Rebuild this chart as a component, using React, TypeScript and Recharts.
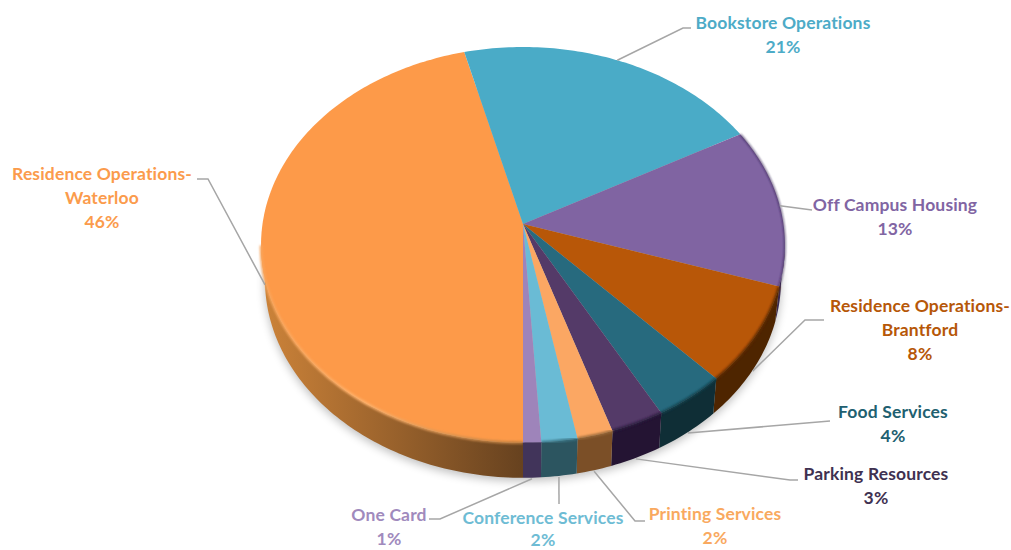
import { Pie, PieChart } from "recharts";

// categories and values, clockwise from the bottom of the pie
const names = [
  "Residence Operations-Waterloo",
  "Bookstore Operations",
  "Off Campus Housing",
  "Residence Operations-Brantford",
  "Food Services",
  "Parking Resources",
  "Printing Services",
  "Conference Services",
  "One Card",
];
const values = [46, 21, 13, 8, 4, 3, 2, 2, 1];

const faceColors = ["#FD9A49", "#4AABC7", "#8064A2", "#B85708", "#276A7E", "#543A68", "#FBA763", "#6ABBD5", "#9E84BA"];
const wallColors = ["url(#waterlooWall)", "#2C6677", "#3A2A52", "#4E2500", "#0F2E36", "#241433", "#7B4F27", "#2C5560", "#41345A"];
const rimColors = ["url(#waterlooRim)", "#4AABC7", "#2E1E4A", "#5E2C00", "#163F4B", "#2A1A3C", "#9A6A3A", "#3A7585", "#54456E"];
const textColors = ["#FB9B4C", "#4DABC7", "#8165A3", "#B65708", "#215F70", "#3F3151", "#F9A95F", "#6EBCD4", "#A08ABD"];

const pieData = names.map((name, i) => ({ name, value: values[i], fill: faceColors[i] }));

// label placement: text centre, first line baseline, line gap, then the bend(s) of the leader line
const labelX = [102, 783, 895, 920, 893, 876, 715, 543, 389];
const labelY = [180, 29, 211, 312, 418, 480, 520, 524, 521];
const labelGap = [24, 24, 24, 24, 24, 24, 24, 22, 24];
const leaderBends = [
  [[208, 179], [197, 179]],
  [[683, 28], [691, 28]],
  [[812, 210]],
  [[805, 320], [824, 320]],
  [[830, 421]],
  [[790, 480], [798, 480]],
  [[635, 521], [645, 521]],
  [[559, 504]],
  [[440, 519], [429, 519]],
];

const CX = 523;
const CY = 224;
const RX = 260.5;
const RY = 195.7;
const TILT = -0.1056; // perspective, centre of the disc sits above the middle of the ellipse
const DEPTH = 35;
const BOTTOM_SCALE = 0.985; // lower disc is further away so it reads a bit narrower
const FONT = "Lato, 'Open Sans', sans-serif";

// recharts angle (deg, counter-clockwise) -> point on the tilted disc
function project(angle: number, cx: number, cy: number) {
  const t = (-angle * Math.PI) / 180;
  const d = 1 + TILT * Math.sin(t);
  return [cx + (RX * Math.cos(t)) / d, cy + (RY * Math.sin(t)) / d];
}

const lower = (p: number[], cx: number) => [cx + (p[0] - cx) * BOTTOM_SCALE, p[1] + DEPTH];

const isFront = (angle: number) => Math.sin((-angle * Math.PI) / 180) > -TILT;

function arcAngles(start: number, end: number) {
  const out: number[] = [];
  const steps = Math.max(2, Math.ceil(Math.abs(end - start)));
  for (let i = 0; i <= steps; i++) out.push(start + ((end - start) * i) / steps);
  return out;
}

const toPath = (pts: number[][]) => pts.map((p, i) => `${i ? "L" : "M"}${p[0].toFixed(2)} ${p[1].toFixed(2)}`).join(" ");

function Slice3D(props: any) {
  const { cx, cy, startAngle, endAngle, fill, name } = props;
  const i = names.indexOf(name);
  const angles = arcAngles(startAngle, endAngle);
  const arc = angles.map((a) => project(a, cx, cy));
  const front = angles.filter(isFront).map((a) => project(a, cx, cy));
  const wall = front.length > 1 ? [...front, ...[...front].reverse().map((p) => lower(p, cx))] : [];
  const face = [[cx, cy], ...arc];
  // the off campus slice has a dark edge along its whole arc
  const rim = i === 2 ? arc : front;
  return (
    <g>
      {wall.length > 0 && <path d={toPath(wall) + " Z"} fill={wallColors[i]} />}
      <path d={toPath(face) + " Z"} fill={fill} />
      {rim.length > 1 && (
        <path
          d={toPath(rim)}
          fill="none"
          stroke={rimColors[i]}
          strokeWidth={i === 2 ? 1.2 : 2.6}
          filter="url(#rimBlur)"
        />
      )}
    </g>
  );
}

function SliceLabel(props: any) {
  const { cx, cy, midAngle, name, value, index } = props;
  const edge = project(midAngle, cx, cy);
  const low = lower(edge, cx);
  const start = isFront(midAngle) ? [low[0], low[1] + 1] : edge;
  const lines = name.split(/(?<=-)/);
  return (
    <g>
      <path d={toPath([start, ...leaderBends[index]])} fill="none" stroke="#A6A6A6" strokeWidth={1.5} />
      <text
        x={labelX[index]}
        y={labelY[index]}
        textAnchor="middle"
        fill={textColors[index]}
        fontFamily={FONT}
        fontSize={17.5}
        fontWeight={700}
        letterSpacing={0.15}
      >
        {[...lines, `${value}%`].map((line: string, n: number) => (
          <tspan key={n} x={labelX[index]} dy={n ? labelGap[index] : 0}>
            {line}
          </tspan>
        ))}
      </text>
    </g>
  );
}

export default function App() {
  const outline =
    toPath(arcAngles(0, 360).map((a) => {
      const p = lower(project(a, CX, CY), CX);
      return [p[0], p[1] + 3];
    })) + " Z";
  return (
    <div style={{ position: "absolute", left: 0, top: 0, width: 1011, height: 550, background: "#fff", overflow: "hidden" }}>
      <PieChart width={1011} height={550} margin={{ top: 0, right: 0, bottom: 0, left: 0 }}>
        <defs>
          <linearGradient id="waterlooWall" gradientUnits="userSpaceOnUse" x1="262" y1="0" x2="522" y2="0">
            <stop offset="0" stopColor="#CC8339" />
            <stop offset="0.35" stopColor="#A96C30" />
            <stop offset="1" stopColor="#67421F" />
          </linearGradient>
          <linearGradient id="waterlooRim" gradientUnits="userSpaceOnUse" x1="262" y1="0" x2="522" y2="0">
            <stop offset="0" stopColor="#F9A55B" />
            <stop offset="0.4" stopColor="#FFB26C" />
            <stop offset="1" stopColor="#B87A3C" />
          </linearGradient>
          <filter id="rimBlur" x="-10%" y="-10%" width="120%" height="120%">
            <feGaussianBlur stdDeviation="0.9" />
          </filter>
          <filter id="pieShadow" x="-10%" y="-10%" width="120%" height="120%">
            <feGaussianBlur stdDeviation="5" />
          </filter>
        </defs>
        <path d={outline} fill="#000" opacity={0.26} filter="url(#pieShadow)" />
        <Pie
          data={pieData}
          dataKey="value"
          nameKey="name"
          cx={CX}
          cy={CY}
          innerRadius={0}
          outerRadius={RX}
          startAngle={-90}
          endAngle={-450}
          stroke="none"
          shape={Slice3D}
          label={SliceLabel}
          labelLine={false}
          isAnimationActive={false}
        />
      </PieChart>
    </div>
  );
}
